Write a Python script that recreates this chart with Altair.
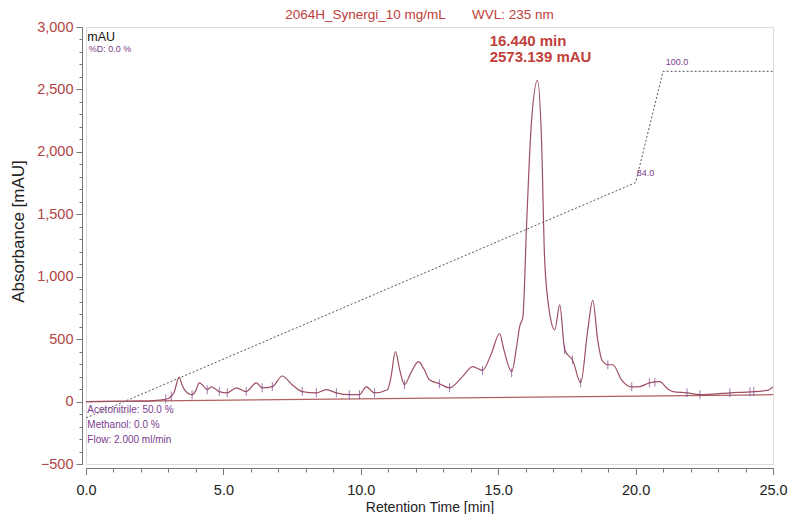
import altair as alt
import pandas as pd

# ---- data ----
SIG_T = [0.0, 1.0, 2.0, 2.5, 2.8, 3.0, 3.2, 3.39, 3.5, 3.6, 3.86, 4.0, 4.12, 4.23, 4.41, 4.56,
         4.85, 5.14, 5.47, 5.83, 6.2, 6.41, 6.78, 7.14, 7.5, 7.87, 8.38, 8.75, 9.11, 9.58, 9.95,
         10.2, 10.5, 10.97, 11.1, 11.26, 11.42, 11.59, 11.8, 12.1, 12.3, 12.5, 12.86, 13.23, 13.7,
         14.07, 14.43, 14.76, 15.05, 15.2, 15.49, 15.67, 15.78, 15.9, 16.03, 16.2, 16.43, 16.58,
         16.69, 16.87, 17.06, 17.24, 17.42, 17.64, 17.7, 18.0, 18.26, 18.44, 18.62, 18.77, 18.99,
         19.17, 19.5, 19.86, 20.15, 20.5, 20.88, 21.17, 21.36, 21.87, 22.34, 23.43, 24.16, 24.8, 25.0]
SIG_V = [0, 2, 3, 8, 15, 25, 70, 195, 130, 90, 55, 90, 150, 135, 95, 118,
         80, 70, 110, 80, 150, 110, 120, 205, 135, 80, 70, 95, 70, 55, 55,
         118, 70, 95, 200, 400, 250, 135, 220, 320, 260, 175, 143, 110, 200,
         280, 250, 390, 545, 420, 240, 440, 600, 680, 1400, 2204, 2573, 2075,
         1137, 711, 575, 775, 415, 350, 335, 150, 575, 810, 495, 335, 295,
         295, 170, 118, 120, 150, 160, 100, 80, 70, 55, 70, 78, 90, 118]

TICK_T = [2.9, 3.1, 3.86, 4.41, 4.85, 5.14, 5.83, 6.41, 6.78, 7.87, 8.38, 9.11, 9.58, 9.95, 10.5,
          11.59, 12.86, 13.23, 14.43, 15.49, 17.42, 17.7, 18.0, 18.99, 19.86, 20.5, 20.7, 21.87,
          22.34, 23.43, 24.16, 24.3]
TICK_V = [20, 45, 55, 95, 80, 70, 80, 110, 120, 80, 70, 70, 55, 55, 70,
          135, 143, 110, 250, 230, 415, 335, 150, 295, 118, 150, 155, 70,
          55, 70, 78, 80]

BASE_T = [0.0, 25.0]
BASE_V = [0, 55]

GRAD_T = [0.0, 20.0, 21.0, 25.0]
GRAD_V = [-131, 1754, 2645, 2645]

X_MAJOR = [0, 5, 10, 15, 20, 25]
X_MINOR = list(range(0, 26))
Y_MAJOR = list(range(-500, 3001, 500))
Y_MINOR = list(range(-500, 3001, 100))

PEAK_TEXT = ["16.440 min", "2573.139 mAU"]
PEAK_T = [14.69, 14.69]
PEAK_V = [2847, 2718]

INFO_TEXT = ["Acetonitrile: 50.0 %", "Methanol: 0.0 %", "Flow: 2.000 ml/min", "%D: 0.0 %", "84.0", "100.0"]
INFO_T = [0.05, 0.05, 0.05, 0.1, 20.04, 21.1]
INFO_V = [-90, -211, -331, 2800, 1803, 2694]
INFO_SIZE = [10, 10, 10, 9, 9, 9]

UNIT_TEXT = ["mAU"]
UNIT_T = [0.05]
UNIT_V = [2885]

TITLE = "2064H_Synergi_10 mg/mL" + "\u00a0" * 7 + "WVL: 235 nm"

FONT = "Liberation Sans"
RED = "#c0403a"
AXRED = "#b04545"
PURPLE = "#7a3d8c"
SIG_COLOR = "#9d5060"

sig = pd.DataFrame({"t": SIG_T, "v": SIG_V})
ticks = pd.DataFrame({"t": TICK_T, "v": TICK_V})
base = pd.DataFrame({"t": BASE_T, "v": BASE_V})
grad = pd.DataFrame({"t": GRAD_T, "v": GRAD_V})
peak = pd.DataFrame({"label": PEAK_TEXT, "t": PEAK_T, "v": PEAK_V})
info = pd.DataFrame({"label": INFO_TEXT, "t": INFO_T, "v": INFO_V, "s": INFO_SIZE})
unit = pd.DataFrame({"label": UNIT_TEXT, "t": UNIT_T, "v": UNIT_V})

xscale = alt.Scale(domain=[0, 25], nice=False, zero=False)
yscale = alt.Scale(domain=[-500, 3000], nice=False, zero=False)

x_major = alt.X("t:Q", scale=xscale, axis=alt.Axis(
    values=X_MAJOR, format=".1f", title="Retention Time [min]", orient="bottom", offset=4,
    grid=False, tickSize=6.5, tickColor="#777", domainColor="#777", labelColor="#222",
    labelFont=FONT, labelFontSize=14.5, labelPadding=9, titleFont=FONT, titleFontSize=14,
    titleFontWeight="normal", titleColor="#222", titlePadding=3, labelFlush=False))
y_major = alt.Y("v:Q", scale=yscale, axis=alt.Axis(
    values=Y_MAJOR, format=",d", title="Absorbance [mAU]", orient="left", offset=4,
    grid=False, tickSize=6, tickColor="#777", domainColor="#777", labelColor=AXRED,
    labelFont=FONT, labelFontSize=14.5, labelPadding=3, titleFont=FONT, titleFontSize=17,
    titleFontWeight="normal", titleColor="#222", titleAngle=270, titleX=-64, titleY=204,
    titleAlign="center", titleBaseline="middle", labelFlush=False))

x_minor = alt.X("t:Q", scale=xscale, axis=alt.Axis(
    values=X_MINOR, labels=False, title=None, orient="bottom", offset=4, grid=False,
    tickSize=4, tickColor="#777", domain=False))
y_minor = alt.Y("v:Q", scale=yscale, axis=alt.Axis(
    values=Y_MINOR, labels=False, title=None, orient="left", offset=4, grid=False,
    tickSize=3, tickColor="#777", domain=False))

x_plain = alt.X("t:Q", scale=xscale, axis=None)
y_plain = alt.Y("v:Q", scale=yscale, axis=None)

signal_layer = alt.Chart(sig).mark_line(
    color=SIG_COLOR, strokeWidth=1.2, interpolate="monotone").encode(x=x_major, y=y_major)

grad_layer = alt.Chart(grad).mark_line(color="#555", strokeWidth=1, strokeDash=[2, 2]).encode(
    x=x_minor, y=y_minor)

base_layer = alt.Chart(base).mark_line(color="#b06060", strokeWidth=1.2).encode(x=x_plain, y=y_plain)

tick_layer = alt.Chart(ticks).mark_tick(orient="vertical", size=9, thickness=1, color=PURPLE).encode(
    x=x_plain, y=y_plain)

peak_layer = alt.Chart(peak).mark_text(
    align="left", baseline="alphabetic", font=FONT, fontSize=15, fontWeight="bold", color=RED
).encode(x=x_plain, y=y_plain, text="label:N")

info_layer = alt.Chart(info).mark_text(
    align="left", baseline="alphabetic", font=FONT, color=PURPLE
).encode(x=x_plain, y=y_plain, text="label:N",
         size=alt.Size("s:Q", scale=None, legend=None))

unit_layer = alt.Chart(unit).mark_text(
    align="left", baseline="alphabetic", font=FONT, fontSize=12.5, color="#111"
).encode(x=x_plain, y=y_plain, text="label:N")

chart = alt.layer(
    grad_layer, base_layer, signal_layer, tick_layer, peak_layer, info_layer, unit_layer
).resolve_axis(x="independent", y="independent").properties(
    width=687, height=437,
    autosize=alt.AutoSizeParams(type="none"),
    padding={"left": 78, "top": 19, "right": 18, "bottom": 50},
    title=alt.TitleParams(text=TITLE, font=FONT, fontSize=13.5, fontWeight="normal", color=RED,
                          anchor="middle", dx=-10, dy=13, offset=0, baseline="alphabetic",
                          frame="group"),
).configure_view(stroke="#8a8a8a", strokeWidth=1).configure(background="white")

chart.save("out.html", embed_options={"renderer": "svg", "actions": False})
